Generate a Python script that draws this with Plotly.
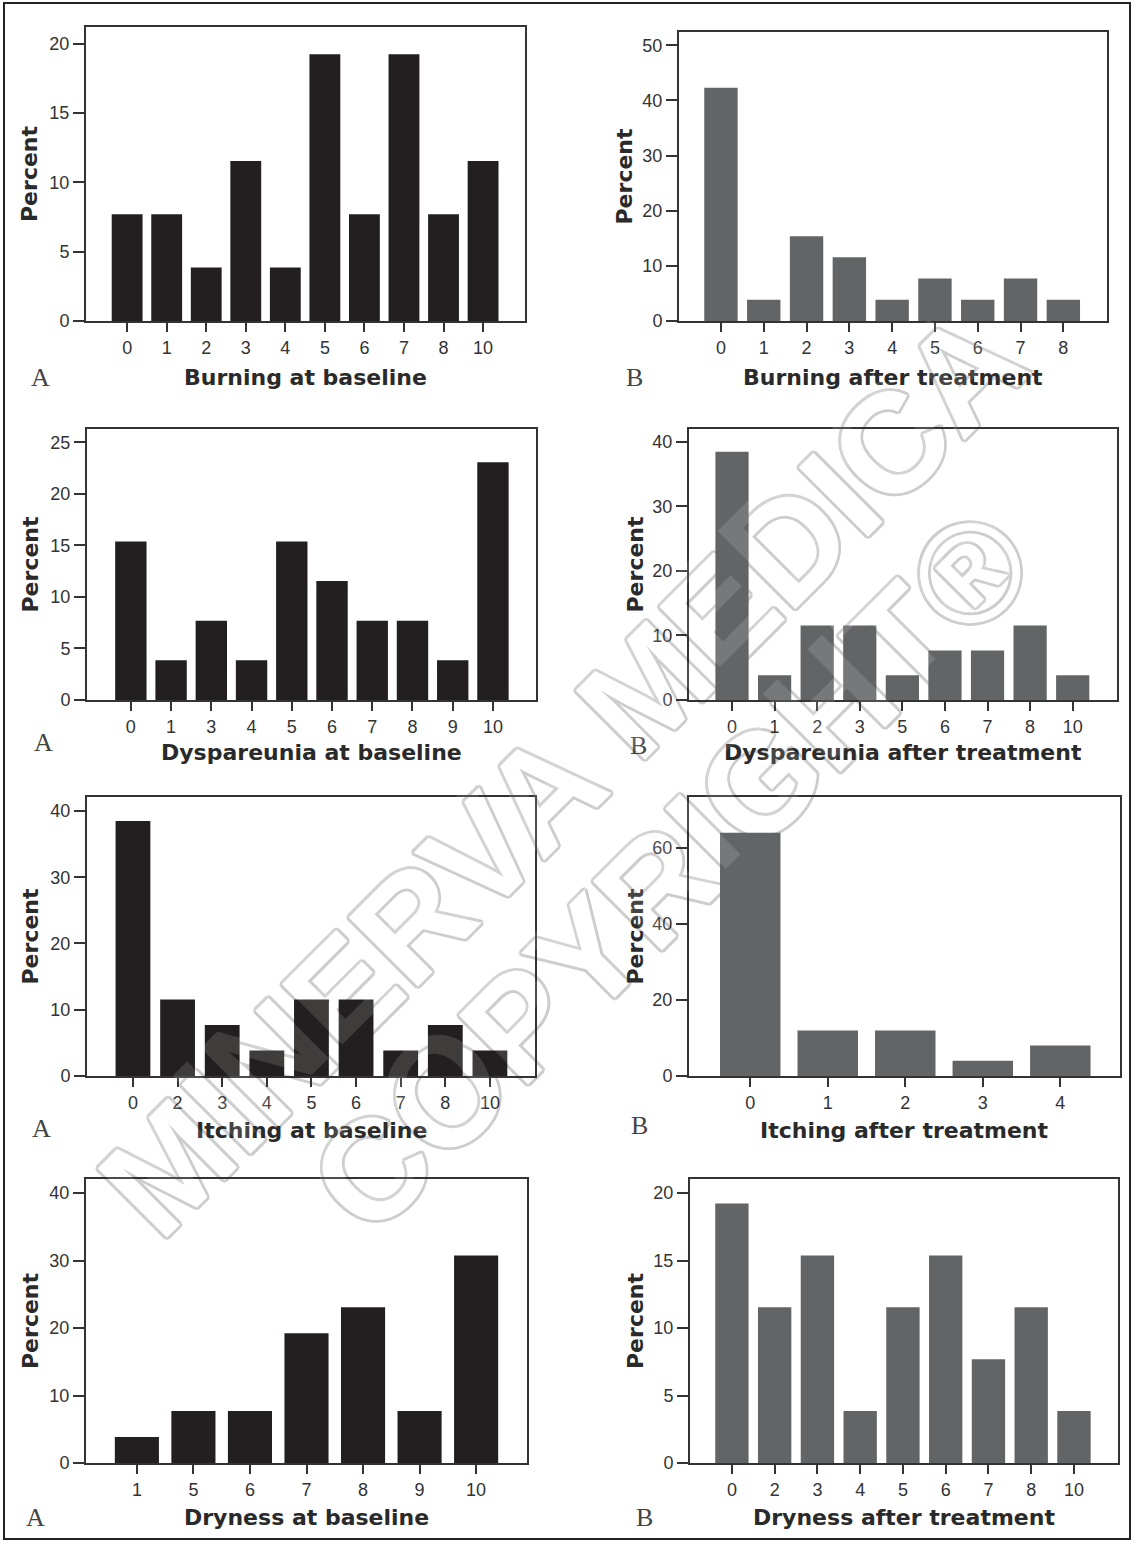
import plotly.graph_objects as go

W, H = 1134, 1542          # reference canvas (all pixel specs below refer to it)
FIG_H = 1552               # rendered height (the capture squeezes it to 1542)

# ---------------- data (percent of patients) ----------------
burning_base_cats = ["0", "1", "2", "3", "4", "5", "6", "7", "8", "10"]
burning_base_vals = [7.69, 7.69, 3.85, 11.54, 3.85, 19.23, 7.69, 19.23, 7.69, 11.54]

burning_after_cats = ["0", "1", "2", "3", "4", "5", "6", "7", "8"]
burning_after_vals = [42.31, 3.85, 15.38, 11.54, 3.85, 7.69, 3.85, 7.69, 3.85]

dysp_base_cats = ["0", "1", "3", "4", "5", "6", "7", "8", "9", "10"]
dysp_base_vals = [15.38, 3.85, 7.69, 3.85, 15.38, 11.54, 7.69, 7.69, 3.85, 23.08]

dysp_after_cats = ["0", "1", "2", "3", "5", "6", "7", "8", "10"]
dysp_after_vals = [38.46, 3.85, 11.54, 11.54, 3.85, 7.69, 7.69, 11.54, 3.85]

itch_base_cats = ["0", "2", "3", "4", "5", "6", "7", "8", "10"]
itch_base_vals = [38.46, 11.54, 7.69, 3.85, 11.54, 11.54, 3.85, 7.69, 3.85]

itch_after_cats = ["0", "1", "2", "3", "4"]
itch_after_vals = [64.0, 12.0, 12.0, 4.0, 8.0]

dry_base_cats = ["1", "5", "6", "7", "8", "9", "10"]
dry_base_vals = [3.85, 7.69, 7.69, 19.23, 23.08, 7.69, 30.77]

dry_after_cats = ["0", "2", "3", "4", "5", "6", "7", "8", "10"]
dry_after_vals = [19.23, 11.54, 15.38, 3.85, 11.54, 15.38, 7.69, 11.54, 3.85]

titles = ["Burning at baseline", "Burning after treatment",
          "Dyspareunia at baseline", "Dyspareunia after treatment",
          "Itching at baseline", "Itching after treatment",
          "Dryness at baseline", "Dryness after treatment"]
panel_letters = ["A", "B", "A", "B", "A", "B", "A", "B"]
y_tick_sets = [[0, 5, 10, 15, 20], [0, 10, 20, 30, 40, 50],
               [0, 5, 10, 15, 20, 25], [0, 10, 20, 30, 40],
               [0, 10, 20, 30, 40], [0, 20, 40, 60],
               [0, 10, 20, 30, 40], [0, 5, 10, 15, 20]]
watermark_lines = ["MINERVA MEDICA", "COPYRIGHT®"]

series = [(burning_base_cats, burning_base_vals), (burning_after_cats, burning_after_vals),
          (dysp_base_cats, dysp_base_vals), (dysp_after_cats, dysp_after_vals),
          (itch_base_cats, itch_base_vals), (itch_after_cats, itch_after_vals),
          (dry_base_cats, dry_base_vals), (dry_after_cats, dry_after_vals)]

# ---------------- layout specs (pixels) ----------------
# box: left, right, top, bottom(zero line)
boxes = [(86, 525, 27, 321), (679, 1107, 32, 321),
         (87, 536, 429, 700), (689, 1117, 429, 700),
         (87, 535, 797, 1076), (689, 1120, 797, 1076),
         (86, 527, 1179, 1463), (690, 1118, 1179, 1463)]
y_tops = [21.2, 52.4, 26.3, 42.0, 42.1, 73.4, 42.1, 21.04]
x_ranges = [(-1.04, 10.06), (-0.98, 9.02), (-1.09, 10.07), (-1.01, 9.04),
            (-1.03, 9.01), (-0.79, 4.77), (-0.9, 6.9), (-0.98, 9.03)]
title_y = [377, 377, 752, 752, 1130, 1130, 1517, 1517]
ylab_x = [29, 624, 30, 635, 30, 635, 30, 635]
letter_pos = [(40, 377), (634, 377), (43, 742), (638, 745),
              (41, 1128), (639, 1125), (35, 1517), (644, 1517)]
watermark_centers = [(553, 763), (662, 862)]
bar_colors = ["#231f20", "#636466"] * 4

AX_COLOR = "#333333"
TICK_FONT = dict(family="Liberation Sans, Arial, sans-serif", size=18, color="#333333")
BOLD_FONT = dict(family="DejaVu Sans, Verdana, sans-serif", size=22, color="#2a2a2a")
WM_FONT = dict(family="Liberation Sans, Arial, sans-serif", size=142, weight="bold")


def px(xp):
    return xp / W


def py(yp):
    return 1 - yp / H


fig = go.Figure()
layout = dict(
    width=W, height=FIG_H, margin=dict(l=0, r=0, t=0, b=0),
    paper_bgcolor="white", plot_bgcolor="rgba(0,0,0,0)",
    showlegend=False, annotations=[], shapes=[],
)

for i, ((cats, vals), box) in enumerate(zip(series, boxes)):
    k = i + 1
    xs = "x" if k == 1 else f"x{k}"
    ys = "y" if k == 1 else f"y{k}"
    l, r, t, b = box
    fig.add_trace(go.Bar(
        x=cats, y=vals, xaxis=xs, yaxis=ys,
        marker=dict(color=bar_colors[i], line=dict(width=0)),
        width=0.78, hoverinfo="x+y",
    ))
    xname = "xaxis" if k == 1 else f"xaxis{k}"
    yname = "yaxis" if k == 1 else f"yaxis{k}"
    layout[xname] = dict(
        domain=[px(l), px(r)], anchor=ys, type="category",
        range=list(x_ranges[i]), showline=True, mirror=True,
        linecolor=AX_COLOR, linewidth=2, ticks="outside", ticklen=9,
        tickwidth=2, tickcolor=AX_COLOR, tickfont=TICK_FONT,
        showgrid=False, zeroline=False, fixedrange=True,
    )
    layout[yname] = dict(
        domain=[py(b), py(t)], anchor=xs, range=[0, y_tops[i]],
        tickvals=y_tick_sets[i], showline=True, mirror=True,
        linecolor=AX_COLOR, linewidth=2, ticks="outside", ticklen=11,
        tickwidth=2, tickcolor=AX_COLOR, tickfont=TICK_FONT,
        showgrid=False, zeroline=False, fixedrange=True,
    )
    # x title
    layout["annotations"].append(dict(
        text=titles[i], xref="paper", yref="paper",
        x=px((l + r) / 2), y=py(title_y[i]), xanchor="center", yanchor="middle",
        showarrow=False, font=dict(BOLD_FONT, weight="bold"),
    ))
    # y title
    layout["annotations"].append(dict(
        text="Percent", xref="paper", yref="paper", textangle=-90,
        x=px(ylab_x[i]), y=py((t + b) / 2), xanchor="center", yanchor="middle",
        showarrow=False, font=dict(BOLD_FONT, weight="bold"),
    ))
    # panel letter
    lx, ly = letter_pos[i]
    layout["annotations"].append(dict(
        text=panel_letters[i], xref="paper", yref="paper",
        x=px(lx), y=py(ly), xanchor="center", yanchor="middle",
        showarrow=False,
        font=dict(family="Liberation Serif, Times New Roman, serif", size=26, color="#444444"),
    ))

# watermark: hollow outlined text beneath the bars ...
ring = "#cdcdcd"
shadow = ", ".join(f"{dx}px {dy}px 0 {ring}" for dx, dy in
                   [(3, 0), (-3, 0), (0, 3), (0, -3), (2, 2), (-2, -2), (2, -2), (-2, 2)])
for text, (cx, cy) in zip(watermark_lines, watermark_centers):
    layout["shapes"].append(dict(
        type="rect", xref="paper", yref="paper", layer="below",
        x0=px(cx - 5), x1=px(cx + 5), y0=py(cy + 5), y1=py(cy - 5),
        line=dict(width=0), fillcolor="rgba(0,0,0,0)",
        label=dict(text=text, textangle=-45, textposition="middle center",
                   font=dict(WM_FONT, color="white", shadow=shadow)),
    ))
    # ... plus a faint translucent fill on top, lightening the bars it crosses
    layout["annotations"].append(dict(
        text=text, xref="paper", yref="paper", x=px(cx), y=py(cy),
        xanchor="center", yanchor="middle", textangle=-45, showarrow=False,
        font=dict(WM_FONT, color="rgba(255,255,255,0.13)"),
    ))

# outer frame
layout["shapes"].append(dict(
    type="rect", xref="paper", yref="paper", layer="above",
    x0=px(4), x1=px(1130), y0=py(1539), y1=py(3),
    line=dict(color="#222222", width=2), fillcolor="rgba(0,0,0,0)",
))

fig.update_layout(**layout)

page_fix = (
    "var de=document.documentElement, bd=document.body;"
    "de.style.margin='0'; de.style.padding='0'; de.style.overflow='hidden';"
    "bd.style.margin='0'; bd.style.padding='0'; bd.style.overflow='hidden';"
)
fig.write_html("out.html", config={"displayModeBar": False}, post_script=page_fix)
